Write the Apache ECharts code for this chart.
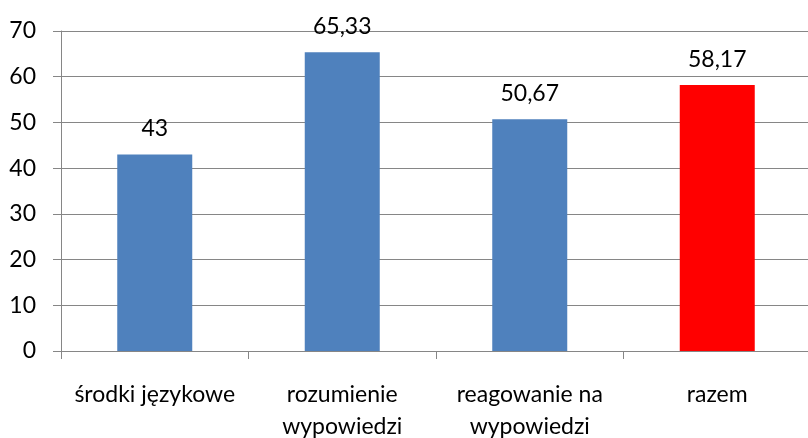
<!DOCTYPE html>
<html>
<head>
<meta charset="utf-8" />
<title>wyniki</title>
<style>
  html,body{margin:0;padding:0;background:#fff;}
  #chart{width:808px;height:438px;}
</style>
<script src="https://cdn.jsdelivr.net/npm/echarts@6/dist/echarts.min.js"></script>
</head>
<body>
<div id="chart"></div>
<script>
  var categories = ['środki językowe', 'rozumienie\nwypowiedzi', 'reagowanie na\nwypowiedzi', 'razem'];
  var values = [43, 65.33, 50.67, 58.17];
  var barColors = ['#4f81bd', '#4f81bd', '#4f81bd', '#ff0000'];

  var font = 'Lato, "Open Sans", sans-serif';
  var chart = echarts.init(document.getElementById('chart'));
  chart.setOption({
    animation: false,
    grid: {left: 61, right: -3, top: 31, bottom: 87, containLabel: false, outerBoundsMode: 'none'},
    xAxis: {
      type: 'category',
      data: categories,
      axisLine: {lineStyle: {color: '#868686', width: 1}},
      axisTick: {show: true, length: 8, lineStyle: {color: '#868686'}},
      axisLabel: {color: '#000', fontFamily: font, fontSize: 23, margin: 28, lineHeight: 32, interval: 0}
    },
    yAxis: {
      type: 'value',
      min: 0, max: 70, interval: 10,
      axisLine: {show: true, lineStyle: {color: '#868686', width: 1}},
      axisTick: {show: true, length: 8, lineStyle: {color: '#868686'}},
      splitLine: {lineStyle: {color: '#868686', width: 1}},
      axisLabel: {color: '#000', fontFamily: font, fontSize: 23, margin: 25}
    },
    series: [{
      type: 'bar',
      barWidth: '40%',
      data: values.map(function (v, i) {
        return {value: v, itemStyle: {color: barColors[i]}};
      }),
      label: {
        show: true, position: 'top', distance: 14,
        color: '#000', fontFamily: font, fontSize: 23,
        formatter: function (p) { return String(p.value).replace('.', ','); }
      }
    }]
  });
</script>
</body>
</html>
